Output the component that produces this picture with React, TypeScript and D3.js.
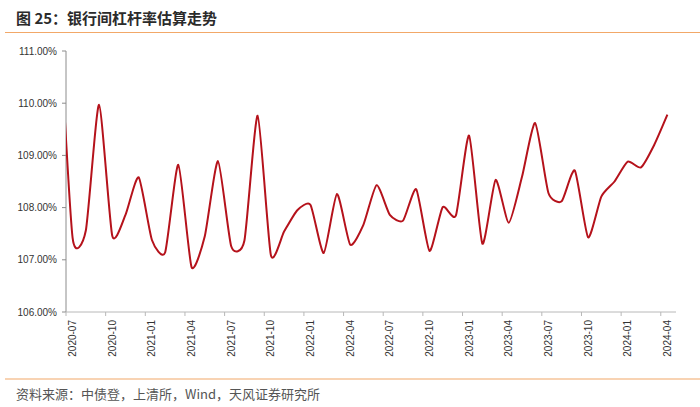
import React from 'react';
import * as d3 from 'd3';

// monthly leverage estimate (%), 2020-06 .. 2024-04
const firstMonth = new Date(2020, 5, 1);
const leverage = [
  111.6,
  107.42, 107.56, 109.97, 107.46, 107.86, 108.58,
  107.38, 107.14, 108.82, 106.86, 107.45, 108.89,
  107.26, 107.37, 109.76, 107.09, 107.54, 107.95,
  108.05, 107.13, 108.26, 107.29, 107.67, 108.43,
  107.86, 107.75, 108.35, 107.17, 108.01, 107.85,
  109.38, 107.31, 108.53, 107.71, 108.59, 109.62,
  108.28, 108.12, 108.71, 107.43, 108.21, 108.50,
  108.88, 108.77, 109.20, 109.78,
];
const months = leverage.map((_, i) => d3.timeFormat('%Y-%m')(d3.timeMonth.offset(firstMonth, i)));

const xTickLabels = [
  '2020-07', '2020-10', '2021-01', '2021-04', '2021-07', '2021-10',
  '2022-01', '2022-04', '2022-07', '2022-10', '2023-01', '2023-04',
  '2023-07', '2023-10', '2024-01', '2024-04',
];
const yTicks = [106, 107, 108, 109, 110, 111];

const title = '图 25：银行间杠杆率估算走势';
const source = '资料来源：中债登，上清所，Wind，天风证券研究所';

const width = 700;
const height = 407;
const margin = { top: 51, right: 26, bottom: 95, left: 66 };
const axisStart = '2020-07';

export default function App() {
  // month index counted from 2020-07, points sit mid-month
  const monthIndex = (m: string) => {
    const [y, mo] = m.split('-').map(Number);
    return (y - 2020) * 12 + (mo - 7);
  };

  const x = d3.scaleLinear()
    .domain([0, 46])
    .range([margin.left, 674]);

  const y = d3.scaleLinear()
    .domain([106, 111])
    .range([height - margin.bottom, margin.top]);

  const points = months.map((m, i) => ({ m, v: leverage[i] }));

  // cardinal with a bit of tension, close to excel's smoothed line
  const line = d3.line<{ m: string; v: number }>()
    .x(d => x(monthIndex(d.m) + 0.5))
    .y(d => y(d.v))
    .curve(d3.curveCardinal.tension(0.4));

  const fmt = (v: number) => d3.format('.2f')(v) + '%';
  const baseY = y(106);

  return (
    <svg width={width} height={height} style={{ position: 'absolute', left: 0, top: 0, background: '#fff' }}>
      <defs>
        <clipPath id="plot">
          <rect x={x(0)} y={0} width={x(46) - x(0) + 2} height={height} />
        </clipPath>
      </defs>

      <text x={16} y={24} fontSize={15} fontWeight="bold" fill="#2b2b2b"
        fontFamily='"Noto Sans CJK SC", "Liberation Sans", sans-serif'>{title}</text>
      <line x1={5} x2={700} y1={32.5} y2={32.5} stroke="#f2a868" strokeWidth={1.2} />

      {/* y axis */}
      <line x1={x(0)} x2={x(0)} y1={y(111)} y2={baseY} stroke="#8c8c8c" strokeWidth={1} />
      {yTicks.map(t => (
        <g key={t}>
          <line x1={x(0) - 4} x2={x(0)} y1={y(t)} y2={y(t)} stroke="#8c8c8c" />
          <text x={57} y={y(t)} dy="0.35em" textAnchor="end" fontSize={10} fill="#333"
            fontFamily='"Liberation Sans", Arial, sans-serif'>{fmt(t)}</text>
        </g>
      ))}

      {/* x axis */}
      <line x1={x(0)} x2={676} y1={baseY} y2={baseY} stroke="#b8b8b8" strokeWidth={1} />
      {xTickLabels.map(l => {
        const i = monthIndex(l) - monthIndex(axisStart);
        return (
          <g key={l}>
            <line x1={x(i)} x2={x(i)} y1={baseY} y2={baseY + 4} stroke="#b8b8b8" />
            <text transform={`translate(${x(i + 0.5)},${baseY + 8}) rotate(-90)`} dy="0.35em"
              textAnchor="end" fontSize={10} fill="#333"
              fontFamily='"Liberation Sans", Arial, sans-serif'>{l}</text>
          </g>
        );
      })}

      <path d={line(points) || ''} fill="none" stroke="#b5121b" strokeWidth={2} clipPath="url(#plot)" />

      <line x1={5} x2={700} y1={379} y2={379} stroke="#f2a868" strokeWidth={1.2} />
      <text x={16} y={399} fontSize={13} fill="#555"
        fontFamily='"Noto Sans CJK SC", "Liberation Sans", sans-serif'>{source}</text>
    </svg>
  );
}
